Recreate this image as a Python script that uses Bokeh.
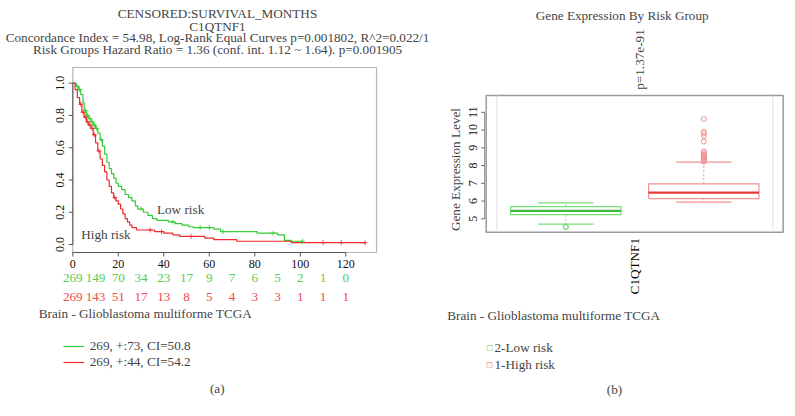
import numpy as np
from bokeh.plotting import figure
from bokeh.models import (Label, LabelSet, ColumnDataSource, Range1d, Legend, LegendItem)
from bokeh.core.properties import value
from bokeh.embed import file_html
from bokeh.resources import INLINE

# ---------------- data ----------------
low_time = [0, 1.5, 2.5, 3.5, 4.5, 5, 6, 7, 8, 9, 10, 11, 12, 13, 14, 15, 16, 17, 18, 19, 20,
            21.5, 23, 24.5, 26, 27.5, 28.5, 31, 33, 35, 37, 42, 45, 48, 51, 53, 62, 65, 81, 90,
            93, 96, 101]
low_surv = [1.0, 0.98, 0.96, 0.93, 0.88, 0.83, 0.80, 0.78, 0.76, 0.74, 0.72, 0.69, 0.65, 0.61,
            0.56, 0.51, 0.47, 0.44, 0.41, 0.38, 0.36, 0.34, 0.31, 0.29, 0.27, 0.24, 0.22, 0.20,
            0.18, 0.16, 0.15, 0.14, 0.13, 0.12, 0.11, 0.105, 0.095, 0.08, 0.07, 0.06, 0.025,
            0.02, 0.02]
high_time = [0, 1, 2, 3, 4, 5, 6, 7, 8, 9, 10, 11, 12, 13, 14, 15, 16, 17, 18, 19, 20, 21, 22,
             23, 24, 25, 26, 28, 36, 40, 44, 47, 58, 62, 72, 96, 128.5]
high_surv = [1.0, 0.96, 0.91, 0.87, 0.82, 0.79, 0.76, 0.74, 0.72, 0.68, 0.63, 0.58, 0.53, 0.49,
             0.45, 0.40, 0.36, 0.32, 0.29, 0.27, 0.25, 0.22, 0.19, 0.16, 0.14, 0.12, 0.105, 0.09,
             0.08, 0.07, 0.06, 0.05, 0.04, 0.03, 0.02, 0.012, 0.01]
low_censor = [2, 3, 5.5, 6.5, 7.5, 8.5, 9.5, 10.5, 12.5, 30, 44, 56, 60, 66, 88, 101]
high_censor = [3.5, 4.5, 5.5, 6.5, 7.5, 8.5, 9.5, 11.5, 18.5, 34, 39, 52, 110, 118, 128.5]

risk_times = [0, 10, 20, 30, 40, 50, 60, 70, 80, 90, 100, 110, 120]
risk_low = [269, 149, 70, 34, 23, 17, 9, 7, 6, 5, 2, 1, 0]
risk_high = [269, 143, 51, 17, 13, 8, 5, 4, 3, 3, 1, 1, 1]

x_ticks_a = [0, 20, 40, 60, 80, 100, 120]
y_ticks_a = [0.0, 0.2, 0.4, 0.6, 0.8, 1.0]
km_box_x = [0, 133.5]          # plot-region limits of panel (a)
km_box_y = [-0.0496, 1.0973]
legend_a = ["269, +:73, CI=50.8", "269, +:44, CI=54.2"]

# boxplot stats: [low whisker, Q1, median, Q3, high whisker]
groups = ["2-Low risk", "1-High risk"]
group_pos = [1, 2]
box_low = [4.70, 5.24, 5.45, 5.69, 5.90]
box_high = [5.94, 6.14, 6.48, 6.97, 8.19]
out_low = [4.53, 4.56]
out_high = [8.22, 8.27, 8.32, 8.38, 8.44, 8.5, 8.56, 8.62, 8.7, 8.8, 9.35, 9.65, 9.8, 9.9, 10.62]
y_ticks_b = [5, 6, 7, 8, 9, 10, 11]
category_b = ["C1QTNF1"]
bx_box_x = [0.423, 2.575]      # plot-region limits of panel (b)
bx_box_y = [4.245, 11.95]

SERIF = "Liberation Serif"
GREEN = "#33cc33"
RED = "#ee2a2a"
GREEN_T = "#55cc55"
RED_T = "#ee4c4c"
AXC = "#555555"
FS = "13.2px"
W, H = 787, 400

# page-pixel scales of the two panels
KM_X0, KM_PX = 72.3, 2.275       # x pixel of t=0, px per month
KM_Y0, KM_PY = 244.0, 161.3      # y pixel of S=0, px per unit
BX_X1, BX_PX = 565.3, 138.0      # x pixel of group 1, px per group
BX_Y5, BX_PY = 218.3, 17.75      # y pixel of value 5, px per unit

p = figure(width=W, height=H, min_border=0, x_axis_type=None, y_axis_type=None,
           x_range=Range1d(-KM_X0 / KM_PX, (W - KM_X0) / KM_PX),
           y_range=Range1d((KM_Y0 - H) / KM_PY, KM_Y0 / KM_PY),
           output_backend="svg", toolbar_location=None, outline_line_color=None,
           background_fill_color="white", border_fill_color="white")
p.extra_x_ranges = {"bx": Range1d(1 - BX_X1 / BX_PX, 1 + (W - BX_X1) / BX_PX)}
p.extra_y_ranges = {"by": Range1d(5 - (H - BX_Y5) / BX_PY, 5 + BX_Y5 / BX_PY)}


def lab(x, y, text, **kw):
    """label at page pixel position (x from left, y from top)"""
    opts = dict(x_units="screen", y_units="screen", text_font=SERIF, text_font_size=FS,
                text_baseline="middle")
    opts.update(kw)
    p.add_layout(Label(x=x, y=H - y, text=text, **opts))


# ================= panel (a): Kaplan-Meier =================
p.quad(left=km_box_x[0], right=km_box_x[1], bottom=km_box_y[0], top=km_box_y[1],
       fill_color=None, line_color="#b5b5b5", line_width=1.2)
# axes
yb = km_box_y[0]
p.segment(x0=[x_ticks_a[0]], x1=[x_ticks_a[-1]], y0=[yb], y1=[yb], line_color=AXC)
p.segment(x0=x_ticks_a, x1=x_ticks_a, y0=[yb] * len(x_ticks_a),
          y1=[yb - 4 / KM_PY] * len(x_ticks_a), line_color=AXC)
p.text(x=x_ticks_a, y=[yb] * len(x_ticks_a), text=[str(t) for t in x_ticks_a], y_offset=11,
       text_font=value(SERIF), text_font_size=value("12px"), text_align="center",
       text_baseline="middle", text_color="#111111")
p.segment(x0=[0], x1=[0], y0=[y_ticks_a[0]], y1=[y_ticks_a[-1]], line_color=AXC)
p.segment(x0=[0] * len(y_ticks_a), x1=[-4 / KM_PX] * len(y_ticks_a), y0=y_ticks_a,
          y1=y_ticks_a, line_color=AXC)
p.text(x=[0] * len(y_ticks_a), y=y_ticks_a, text=[f"{t:.1f}" for t in y_ticks_a],
       x_offset=-13, angle=np.pi / 2, text_font=value(SERIF), text_font_size=value("12px"),
       text_align="center", text_baseline="middle", text_color="#111111")

r_low = p.step(low_time, low_surv, mode="after", line_color=GREEN, line_width=1.2)
r_high = p.step(high_time, high_surv, mode="after", line_color=RED, line_width=1.2)

lt, ls = np.array(low_time), np.array(low_surv)
ht, hs = np.array(high_time), np.array(high_surv)
lc_y = ls[np.searchsorted(lt, low_censor, side="right") - 1]
hc_y = hs[np.searchsorted(ht, high_censor, side="right") - 1]
p.scatter(low_censor, lc_y, marker="cross", size=5, line_color=GREEN, line_width=0.8)
p.scatter(high_censor, hc_y, marker="cross", size=5, line_color=RED, line_width=0.8)

p.add_layout(Label(x=37, y=0.215, text="Low risk", text_font=SERIF, text_font_size=FS,
                   text_baseline="middle"))
p.add_layout(Label(x=3.7, y=0.06, text="High risk", text_font=SERIF, text_font_size=FS,
                   text_baseline="middle"))

title_lines = ["CENSORED:SURVIVAL_MONTHS", "C1QTNF1",
               "Concordance Index = 54.98, Log-Rank Equal Curves p=0.001802, R^2=0.022/1",
               "Risk Groups Hazard Ratio = 1.36 (conf. int. 1.12 ~ 1.64). p=0.001905"]
for t, yy in zip(title_lines, [13, 25.5, 37, 49]):
    lab(217, yy, t, text_align="center")

src_low = ColumnDataSource(dict(x=risk_times, y=[H - 277.7] * len(risk_times),
                                t=[str(v) for v in risk_low]))
src_high = ColumnDataSource(dict(x=risk_times, y=[H - 296] * len(risk_times),
                                 t=[str(v) for v in risk_high]))
for src, col in ((src_low, GREEN_T), (src_high, RED_T)):
    p.add_layout(LabelSet(x="x", y="y", text="t", source=src, y_units="screen",
                          text_font=value(SERIF), text_font_size=value(FS),
                          text_color=value(col), text_align="center",
                          text_baseline="middle"))

lab(38.3, 313.3, "Brain - Glioblastoma multiforme TCGA")
lab(216.7, 388.3, "(a)", text_align="center")

leg = Legend(items=[LegendItem(label=legend_a[0], renderers=[r_low]),
                    LegendItem(label=legend_a[1], renderers=[r_high])],
             location=(62.7, H - 370), padding=0, margin=0, spacing=0, label_height=16,
             glyph_height=16, glyph_width=21, label_standoff=6, border_line_color=None,
             background_fill_alpha=0, label_text_font=SERIF, label_text_font_size=FS)
p.add_layout(leg)

# ================= panel (b): boxplot =================
BR = dict(x_range_name="bx", y_range_name="by")
p.quad(left=bx_box_x[0], right=bx_box_x[1], bottom=bx_box_y[0], top=bx_box_y[1],
       fill_color=None, line_color="#9a9a9a", line_width=1.5, **BR)
p.segment(x0=[0.5, 2.5], x1=[0.5, 2.5], y0=[bx_box_y[0]] * 2, y1=[bx_box_y[1]] * 2,
          line_color="#e0e0e0", line_width=1, **BR)
xl = bx_box_x[0] - 1.5 / BX_PX
p.segment(x0=[xl], x1=[xl], y0=[y_ticks_b[0]], y1=[y_ticks_b[-1]], line_color="#888888", **BR)
p.segment(x0=[xl] * len(y_ticks_b), x1=[xl - 3.5 / BX_PX] * len(y_ticks_b), y0=y_ticks_b,
          y1=y_ticks_b, line_color="#666666", **BR)
p.text(x=[bx_box_x[0]] * len(y_ticks_b), y=y_ticks_b, text=[str(t) for t in y_ticks_b],
       x_offset=-13, angle=np.pi / 2, text_font=value(SERIF), text_font_size=value("12px"),
       text_align="center", text_baseline="middle", text_color="#111111", **BR)

half = 0.4
cap = 0.2
specs = [(box_low, out_low, "#77dd77", "#3dbb3d"), (box_high, out_high, "#f29393", "#e53a3a")]
for pos, (st, outs, lc, mc) in zip(group_pos, specs):
    lo, q1, med, q3, hi = st
    p.quad(left=pos - half, right=pos + half, bottom=q1, top=q3, fill_color=None,
           line_color=lc, line_width=1.2, **BR)
    p.segment(x0=[pos - half], x1=[pos + half], y0=[med], y1=[med], line_color=mc,
              line_width=2.2, **BR)
    p.segment(x0=[pos, pos], x1=[pos, pos], y0=[q3, q1], y1=[hi, lo], line_color=lc,
              line_width=1, line_dash="2 2", **BR)
    p.segment(x0=[pos - cap, pos - cap], x1=[pos + cap, pos + cap], y0=[hi, lo],
              y1=[hi, lo], line_color=lc, line_width=1.2, **BR)
    p.scatter([pos] * len(outs), outs, marker="circle", size=5, fill_color=None,
              line_color=lc, line_width=1, **BR)

mid = (group_pos[0] + group_pos[1]) / 2
p.text(x=[mid], y=[bx_box_y[0]], text=category_b, y_offset=34, angle=np.pi / 2,
       text_font=value(SERIF), text_font_size=value(FS), text_align="center",
       text_baseline="middle", **BR)

lab(455, 169, "Gene Expression Level", angle=np.pi / 2, text_align="center")
lab(621.7, 15, "Gene Expression By Risk Group", text_align="center")
lab(639.3, 59, "p=1.37e-91", angle=np.pi / 2, text_align="center")
lab(446.7, 315, "Brain - Glioblastoma multiforme TCGA")
for i, (g, c) in enumerate(zip(groups, ["#44cc44", "#ee5555"])):
    yy = 347.3 + 16.7 * i
    lab(489, yy, "\u25a1", text_font="DejaVu Sans", text_font_size="7px", text_color=c,
        text_align="center")
    lab(494, yy, g)
lab(614, 389, "(b)", text_align="center")

open("out.html", "w").write(file_html(p, INLINE))
